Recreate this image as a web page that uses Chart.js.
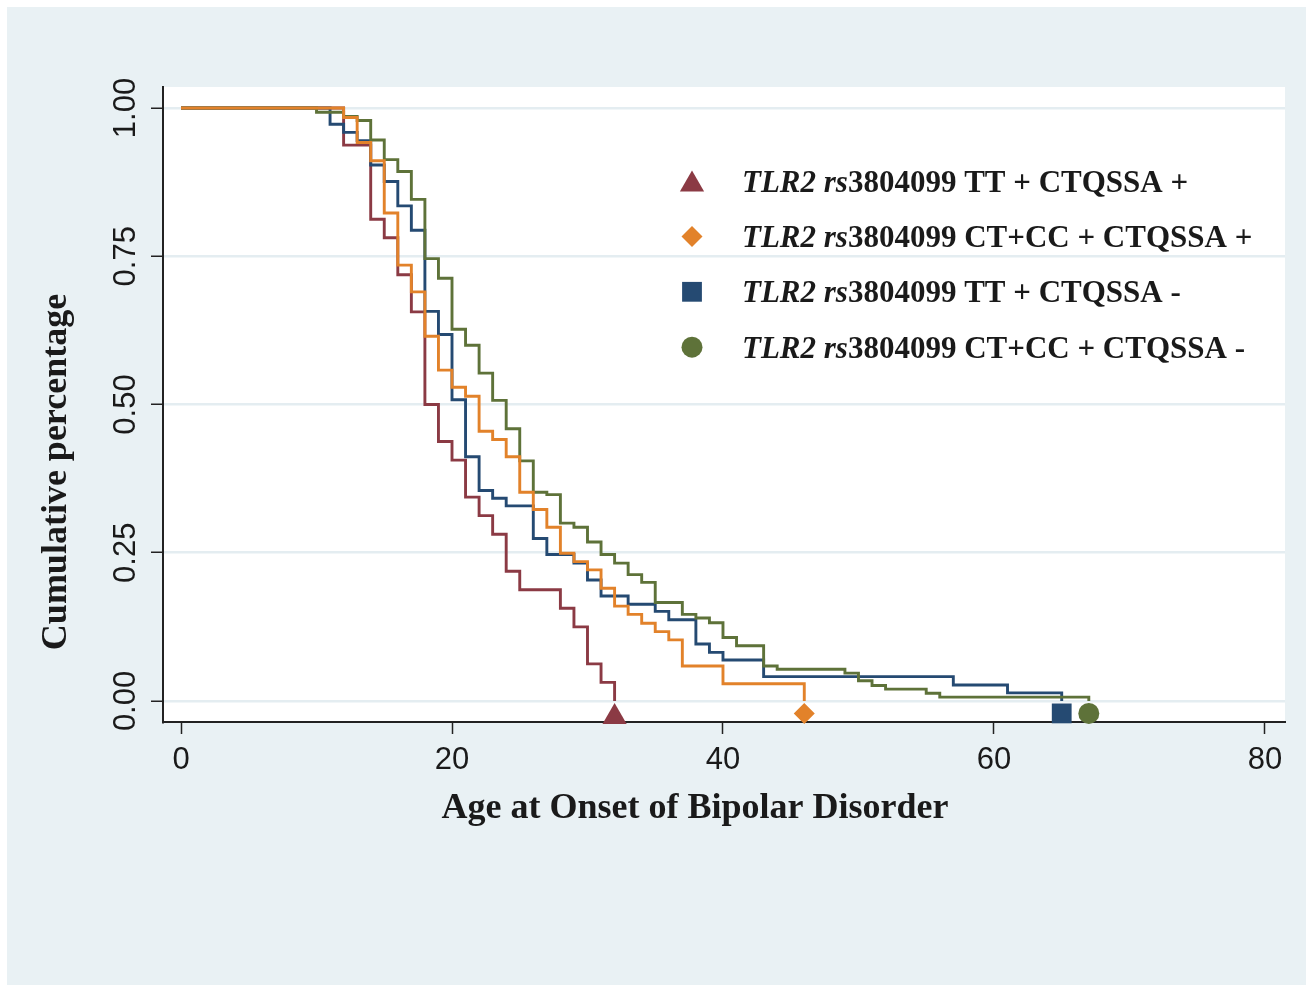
<!DOCTYPE html>
<html><head><meta charset="utf-8">
<script src="https://cdn.jsdelivr.net/npm/chart.js@4.4.1/dist/chart.umd.min.js"></script>
<style>html,body{margin:0;padding:0;background:#fff;}canvas{display:block;}</style>
</head><body>
<canvas id="c" width="1306" height="985"></canvas>
<script>
// ---- data (Kaplan-Meier style step curves) ----
const ageRed    = [0,12,14,15,16,17,18,19,20,21,22,23,24,25,28,29,30,31,32];
const survRed   = [1,0.9375,0.8125,0.78125,0.71875,0.65625,0.5,0.4375,0.40625,0.34375,0.3125,0.28125,0.21875,0.1875,0.15625,0.125,0.0625,0.03125,0];

const ageOrange  = [0,12,13,14,15,16,17,18,19,20,21,22,23,24,25,26,27,28,29,30,31,32,33,34,35,36,37,40,46];
const survOrange = [1,0.984,0.942,0.911,0.823,0.735,0.690,0.615,0.558,0.529,0.514,0.455,0.441,0.412,0.352,0.323,0.293,0.249,0.235,0.221,0.190,0.160,0.146,0.131,0.117,0.103,0.059,0.029,0];

const ageBlue  = [0,11,12,13,14,15,16,17,18,19,20,21,22,23,24,26,27,29,30,31,33,35,36,38,39,40,43,57,61,65];
const survBlue = [1,0.9726,0.959,0.945,0.904,0.876,0.835,0.794,0.657,0.618,0.508,0.412,0.355,0.342,0.329,0.274,0.247,0.2325,0.204,0.177,0.163,0.151,0.137,0.096,0.082,0.069,0.041,0.027,0.0137,0];

const ageGreen  = [0,10,12,13,14,15,16,17,18,19,20,21,22,23,24,25,26,27,28,29,30,31,32,33,34,35,37,38,39,40,41,43,44,49,50,51,52,55,56,67];
const survGreen = [1,0.993,0.986,0.979,0.946,0.913,0.893,0.846,0.746,0.713,0.627,0.600,0.553,0.507,0.459,0.405,0.352,0.348,0.300,0.293,0.268,0.247,0.2325,0.213,0.200,0.166,0.146,0.140,0.132,0.107,0.093,0.059,0.0535,0.047,0.034,0.026,0.020,0.013,0.0065,0];

// end-of-curve markers
const markerAge = [32, 46, 65, 67];
const markerY   = [-0.027, -0.021, -0.021, -0.021];

const geneLabel   = 'TLR2 rs';
const groupLabels = ['3804099 TT + CTQSSA +', '3804099 CT+CC + CTQSSA +', '3804099 TT + CTQSSA -', '3804099 CT+CC + CTQSSA -'];

const xTicks = [0, 20, 40, 60, 80];
const yTicks = [0, 0.25, 0.5, 0.75, 1];
const yTickLabels = ['0.00', '0.25', '0.50', '0.75', '1.00'];

const xTitle = 'Age at Onset of Bipolar Disorder';
const yTitle = 'Cumulative percentage';

// ---- styles ----
const colors = ['#8b3a44', '#e2822a', '#254a72', '#5e7239'];
const pointStyles = ['triangle', 'rectRot', 'rect', 'circle'];
const pointRadii = [14, 10.5, 14, 10.5];
const lineOrder = [3, 0, 2, 1];

function toXY(xs, ys) { return xs.map((x, i) => ({x: x, y: ys[i]})); }
const series = [[ageRed, survRed], [ageOrange, survOrange], [ageBlue, survBlue], [ageGreen, survGreen]];

const datasets = [];
series.forEach((s, i) => {
  datasets.push({
    type: 'line',
    label: geneLabel + groupLabels[i],
    data: toXY(s[0], s[1]),
    stepped: 'before',
    borderColor: colors[i],
    borderWidth: 2.9,
    pointRadius: 0,
    pointHoverRadius: 0,
    fill: false,
    tension: 0,
    order: lineOrder[i] + 1
  });
});
series.forEach((s, i) => {
  datasets.push({
    type: 'scatter',
    label: 'marker' + i,
    data: [{x: markerAge[i], y: markerY[i]}],
    showLine: false,
    pointStyle: pointStyles[i],
    pointRadius: pointRadii[i],
    pointHoverRadius: pointRadii[i],
    backgroundColor: colors[i],
    borderColor: colors[i],
    borderWidth: 0,
    clip: false,
    order: 0
  });
});

const bgPlugin = {
  id: 'bg',
  beforeDraw(chart) {
    const {ctx, chartArea: a, width, height} = chart;
    ctx.save();
    ctx.fillStyle = '#ffffff';
    ctx.fillRect(0, 0, width, height);
    ctx.fillStyle = '#e9f1f4';
    ctx.fillRect(7, 7, width - 7, height - 7);
    ctx.fillStyle = '#ffffff';
    ctx.fillRect(a.left, a.top, a.right - a.left, a.bottom - a.top);
    ctx.restore();
  }
};

function drawMarker(ctx, style, r, x, y) {
  if (Chart.helpers && Chart.helpers.drawPoint) {
    Chart.helpers.drawPoint(ctx, {pointStyle: style, radius: r, rotation: 0, borderWidth: 0}, x, y);
  }
}

const legendTitlePlugin = {
  id: 'legendTitles',
  afterDraw(chart) {
    const {ctx, chartArea: a} = chart;
    ctx.save();
    // legend
    const mx = a.left + 529;
    const tx = a.left + 579;
    for (let i = 0; i < groupLabels.length; i++) {
      const cy = a.top + 94 + i * 55.4;
      ctx.fillStyle = colors[i];
      const dy = pointStyles[i] === 'triangle' ? pointRadii[i] / 4 : 0;
      drawMarker(ctx, pointStyles[i], pointRadii[i], mx, cy + dy);
      ctx.fillStyle = '#1a1a1a';
      ctx.textAlign = 'left';
      ctx.textBaseline = 'alphabetic';
      ctx.font = 'italic bold 31px "Liberation Serif"';
      ctx.fillText(geneLabel, tx, cy + 10.5);
      const w = ctx.measureText(geneLabel).width;
      ctx.font = 'bold 31px "Liberation Serif"';
      ctx.fillText(groupLabels[i], tx + w, cy + 10.5);
    }
    // axis titles
    ctx.fillStyle = '#1a1a1a';
    ctx.font = 'bold 36px "Liberation Serif"';
    ctx.textAlign = 'center';
    ctx.textBaseline = 'alphabetic';
    ctx.fillText(xTitle, a.left + 532, a.bottom + 96);
    ctx.save();
    ctx.translate(66, a.top + 385);
    ctx.rotate(-Math.PI / 2);
    ctx.fillText(yTitle, 0, 0);
    ctx.restore();
    ctx.restore();
  }
};

new Chart(document.getElementById('c'), {
  data: {datasets: datasets},
  options: {
    responsive: false,
    animation: false,
    devicePixelRatio: 1,
    layout: {padding: {top: 87, right: 21, bottom: 0, left: 0}},
    plugins: {legend: {display: false}, tooltip: {enabled: false}, title: {display: false}},
    events: [],
    scales: {
      x: {
        type: 'linear',
        min: -1.33,
        max: 81.48,
        afterBuildTicks(scale) { scale.ticks = xTicks.map(v => ({value: v})); },
        afterFit(scale) { scale.height = 263; },
        grid: {drawOnChartArea: false, drawTicks: true, tickLength: 12, tickWidth: 1.5, tickColor: '#222'},
        border: {display: true, color: '#222', width: 2},
        ticks: {
          font: {family: 'Liberation Sans', size: 31},
          color: '#1a1a1a',
          padding: 8,
          maxRotation: 0,
          minRotation: 0,
          callback: (v) => String(v)
        }
      },
      y: {
        type: 'linear',
        min: -0.0355,
        max: 1.0355,
        afterBuildTicks(scale) { scale.ticks = yTicks.map(v => ({value: v})); },
        afterFit(scale) { scale.width = 163; },
        grid: {color: '#e4edf1', lineWidth: 2.5, drawTicks: true, tickLength: 12, tickWidth: 1.5, tickColor: '#222'},
        border: {display: true, color: '#222', width: 2},
        ticks: {
          font: {family: 'Liberation Sans', size: 31},
          color: '#1a1a1a',
          minRotation: 90,
          maxRotation: 90,
          crossAlign: 'center',
          padding: -6,
          callback: (v) => { const k = yTicks.indexOf(v); return k >= 0 ? yTickLabels[k] : ''; }
        }
      }
    }
  },
  plugins: [bgPlugin, legendTitlePlugin]
});
</script>
</body></html>
